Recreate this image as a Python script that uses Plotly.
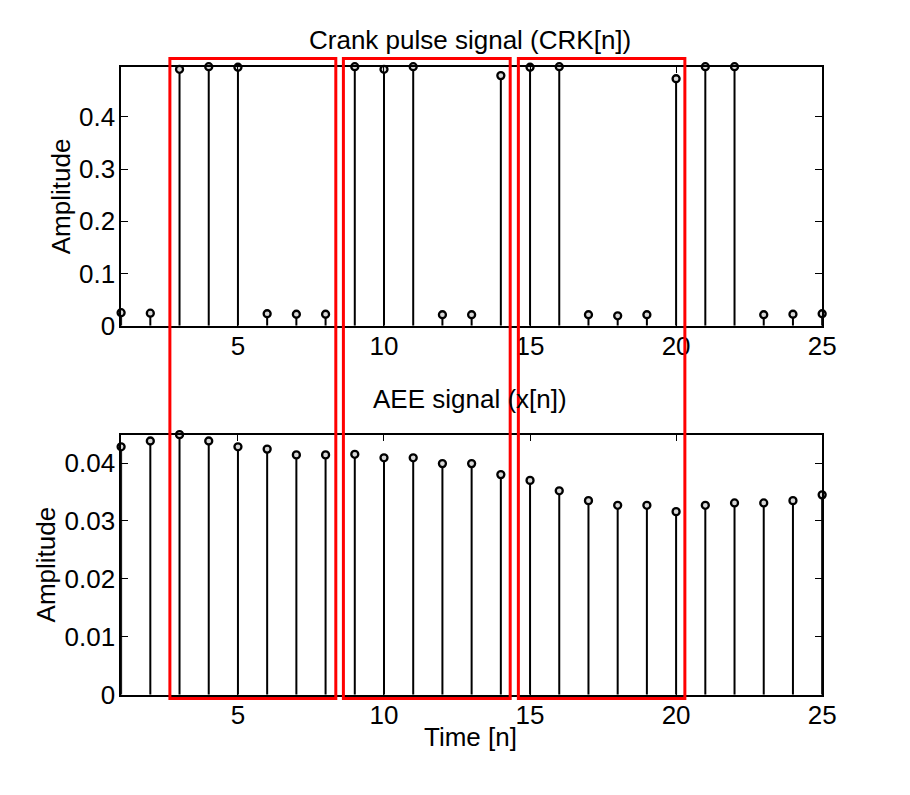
import plotly.graph_objects as go

n = list(range(1, 26))
crk = [0.025, 0.024, 0.491, 0.496, 0.495, 0.023, 0.022, 0.022, 0.496, 0.491,
       0.496, 0.021, 0.021, 0.479, 0.495, 0.496, 0.021, 0.019, 0.021, 0.473,
       0.496, 0.496, 0.021, 0.022, 0.023]
aee = [0.0428, 0.0438, 0.0449, 0.0438, 0.0428, 0.0424, 0.0414, 0.0414, 0.0415, 0.0409,
       0.0409, 0.0399, 0.0399, 0.0380, 0.0370, 0.0352, 0.0335, 0.0327, 0.0327, 0.0316,
       0.0327, 0.0331, 0.0331, 0.0335, 0.0345]
# highlighted windows (in n units)
windows = [(2.67, 8.35), (8.61, 14.32), (14.60, 20.30)]
top_ticks = [0, 0.1, 0.2, 0.3, 0.4]
bot_ticks = [0, 0.01, 0.02, 0.03, 0.04]
x_ticks = [5, 10, 15, 20, 25]

FONT = "Liberation Sans, Arial, sans-serif"
W, H = 910, 795

def px_x(p):
    return p / W

def px_y(p):
    return (H - p) / H

fig = go.Figure()

def add_stem(xs, ys, xa, ya):
    sx, sy = [], []
    for a, b in zip(xs, ys):
        sx += [a, a, None]
        sy += [0, b, None]
    fig.add_trace(go.Scatter(x=sx, y=sy, mode="lines", xaxis=xa, yaxis=ya,
                             line=dict(color="black", width=2), hoverinfo="skip",
                             showlegend=False, cliponaxis=False))
    fig.add_trace(go.Scatter(x=xs, y=ys, mode="markers", xaxis=xa, yaxis=ya,
                             marker=dict(symbol="circle", size=7, color="#d8d8d8",
                                         line=dict(color="black", width=2.3)),
                             showlegend=False, cliponaxis=False))

add_stem(n, crk, "x", "y")
add_stem(n, aee, "x2", "y2")

xdom = [px_x(123), px_x(835)]
axcommon = dict(showgrid=False, zeroline=False, showline=True, mirror="ticks",
                linecolor="black", linewidth=1.5, ticks="inside", ticklen=7,
                tickwidth=1.2, tickcolor="black",
                tickfont=dict(family=FONT, size=26, color="black"))

fig.update_layout(
    width=W, height=H,
    margin=dict(l=0, r=0, t=0, b=0),
    paper_bgcolor="white", plot_bgcolor="white",
    xaxis=dict(domain=xdom, range=[1, 25], tickvals=x_ticks, anchor="y",
               ticklabelstandoff=-4, **axcommon),
    yaxis=dict(domain=[px_y(332), px_y(68)], range=[0, max(crk)], tickvals=top_ticks,
               anchor="x", ticklabelstandoff=-1, **axcommon),
    xaxis2=dict(domain=xdom, range=[1, 25], tickvals=x_ticks, anchor="y2",
                ticklabelstandoff=-4, **axcommon),
    yaxis2=dict(domain=[px_y(708), px_y(443)], range=[0, max(aee)], tickvals=bot_ticks,
                anchor="x2", ticklabelstandoff=-1, **axcommon),
)

ann_font = dict(family=FONT, size=26, color="black")
fig.add_annotation(text="Crank pulse signal (CRK[n])", x=px_x(477), y=px_y(41),
                   xref="paper", yref="paper", showarrow=False, font=ann_font,
                   xanchor="center", yanchor="middle")
fig.add_annotation(text="AEE signal (x[n])", x=px_x(477), y=px_y(407),
                   xref="paper", yref="paper", showarrow=False, font=ann_font,
                   xanchor="center", yanchor="middle")
fig.add_annotation(text="Time [n]", x=px_x(478), y=px_y(751),
                   xref="paper", yref="paper", showarrow=False, font=ann_font,
                   xanchor="center", yanchor="middle")
fig.add_annotation(text="Amplitude", x=px_x(62), y=px_y(200), textangle=-90,
                   xref="paper", yref="paper", showarrow=False, font=ann_font,
                   xanchor="center", yanchor="middle")
fig.add_annotation(text="Amplitude", x=px_x(47), y=px_y(575), textangle=-90,
                   xref="paper", yref="paper", showarrow=False, font=ann_font,
                   xanchor="center", yanchor="middle")

for x0, x1 in windows:
    fig.add_shape(type="rect", xref="x", yref="paper", x0=x0, x1=x1,
                  y0=px_y(712), y1=px_y(59.5), line=dict(color="#ff0000", width=3),
                  fillcolor="rgba(0,0,0,0)", layer="above")

fig.write_html("out.html")
